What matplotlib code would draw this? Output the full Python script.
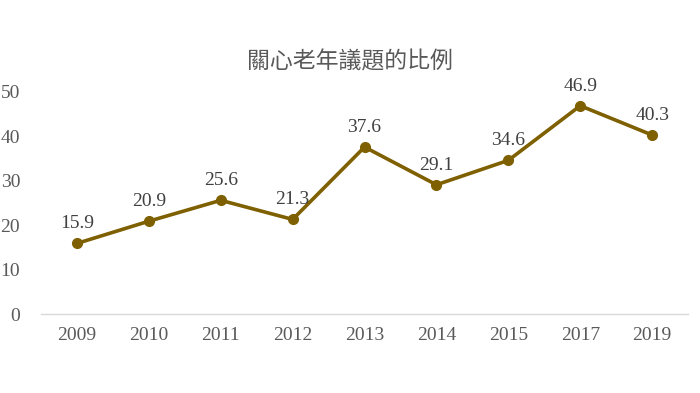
import matplotlib
matplotlib.use("Agg")
import matplotlib.pyplot as plt

years = ["2009", "2010", "2011", "2012", "2013", "2014", "2015", "2017", "2019"]
values = [15.9, 20.9, 25.6, 21.3, 37.6, 29.1, 34.6, 46.9, 40.3]
title = "關心老年議題的比例"

color = "#7F6000"
gray = "#595959"

fig = plt.figure(figsize=(7, 3.93), dpi=100)
ax = fig.add_axes([0.0586, 0.201, 0.9244, 0.565])
x = list(range(len(years)))
ax.plot(x, values, color=color, lw=2.6, marker="o", markersize=7, solid_joinstyle="miter")
for xi, v in zip(x, values):
    ax.annotate(f"{v}", (xi, v), xytext=(0, 8), textcoords="offset points",
                ha="center", va="bottom", fontsize=14, color="#404040",
                family="Liberation Serif")
ax.set_xlim(-0.5, len(years) - 0.5)
ax.set_ylim(0, 50)
ax.set_yticks(range(0, 51, 10))
ax.set_xticks(x)
ax.set_xticklabels(years)
for lab in ax.get_xticklabels() + ax.get_yticklabels():
    lab.set_family("Liberation Serif")
    lab.set_fontsize(14)
    lab.set_color(gray)
ax.tick_params(axis="both", length=0)
ax.tick_params(axis="x", pad=9)
ax.tick_params(axis="y", pad=15)
for s in ["top", "right", "left"]:
    ax.spines[s].set_visible(False)
ax.spines["bottom"].set_color("#D9D9D9")
ax.spines["bottom"].set_linewidth(1)
fig.text(0.5, 0.842, title, ha="center", va="center", fontsize=16.5, color=gray,
         family=["Noto Sans CJK TC", "DejaVu Sans"])
fig.savefig("out.png", dpi=100, facecolor="white")
